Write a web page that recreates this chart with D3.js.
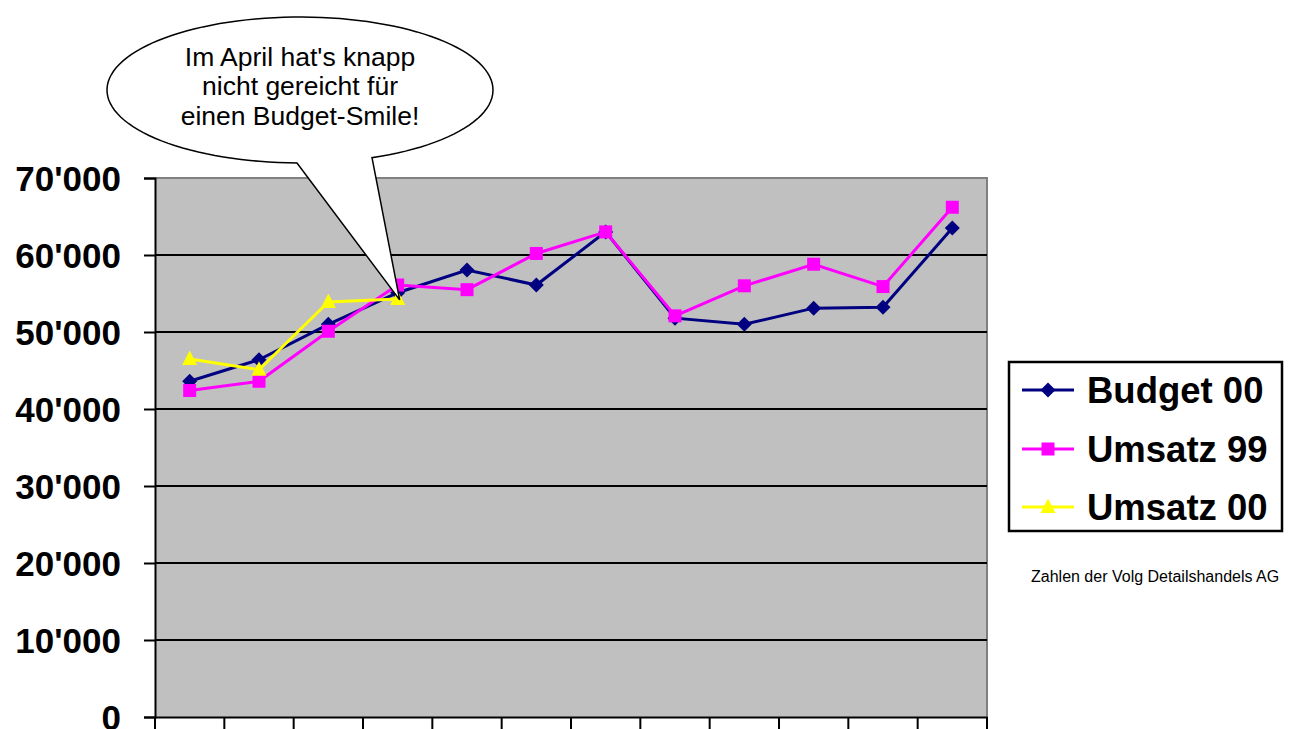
<!DOCTYPE html>
<html><head><meta charset="utf-8">
<script src="https://cdn.jsdelivr.net/npm/d3@7"></script>
<style>html,body{margin:0;padding:0;background:#fff;overflow:hidden}</style>
</head><body>
<svg id="chart" width="1294" height="729"></svg>
<script>
const months = ["Jan","Feb","Mär","Apr","Mai","Jun","Jul","Aug","Sep","Okt","Nov","Dez"];
const budget00 = [43600,46400,51000,55100,58050,56100,63000,51800,51000,53100,53200,63500];
const umsatz99 = [42400,43600,50100,56100,55500,60200,63000,52100,56000,58800,55900,66200];
const umsatz00 = [46500,45100,53900,54300];
const yTicks = [0,10000,20000,30000,40000,50000,60000,70000];
const seriesNames = ["Budget 00","Umsatz 99","Umsatz 00"];
const calloutLines = ["Im April hat's knapp","nicht gereicht für","einen Budget-Smile!"];
const footnote = "Zahlen der Volg Detailshandels AG";

const svg = d3.select("#chart");
const FONT = "'Liberation Sans', Arial, sans-serif";
const L = 155, R = 987, T = 178, B = 717;

const x = d3.scaleBand().domain(months).range([L, R]).paddingInner(0).paddingOuter(0);
const y = d3.scaleLinear().domain([0, 70000]).range([B, T]);
const cx = m => x(m) + x.bandwidth() / 2;

// marker shapes
const diamond = "M0,-7.5L7.5,0L0,7.5L-7.5,0Z";
const square = "M-6.5,-6.5H6.5V6.5H-6.5Z";
const triangle = "M0,-8.5L7.5,6L-7.5,6Z";

// plot background
svg.append("rect").attr("x", L).attr("y", T).attr("width", R - L).attr("height", B - T).attr("fill", "#C0C0C0");
svg.append("path").attr("d", `M${L},${T}H${R}V${B}`).attr("fill", "none").attr("stroke", "#808080").attr("stroke-width", 2);

// gridlines
svg.append("g").selectAll("line").data(yTicks.filter(d => d > 0 && d < 70000)).join("line")
  .attr("x1", L).attr("x2", R).attr("y1", d => y(d)).attr("y2", d => y(d))
  .attr("stroke", "#000").attr("stroke-width", 2);

// y axis
const yAxis = d3.axisLeft(y).tickValues(yTicks).tickSize(11).tickFormat(d => d3.format(",")(d).replace(/,/g, "'"));
const gy = svg.append("g").attr("transform", `translate(${L},0)`).call(yAxis);
gy.select(".domain").attr("stroke", "#000").attr("stroke-width", 2);
gy.selectAll(".tick line").attr("stroke", "#000").attr("stroke-width", 2);
gy.selectAll(".tick text")
  .attr("x", -34).attr("dy", null).attr("y", 12)
  .attr("font-family", FONT).attr("font-size", 35).attr("font-weight", "bold").attr("fill", "#000")
  .attr("text-anchor", "end");

// x axis (category labels fall outside the visible window)
const xAxis = d3.axisBottom(x).tickSize(0).tickFormat("");
const gx = svg.append("g").attr("transform", `translate(0,${B})`).call(xAxis);
gx.select(".domain").attr("stroke", "#000").attr("stroke-width", 2);
const bounds = months.map(m => x(m)).concat([R]);
svg.append("g").selectAll("line").data(bounds).join("line")
  .attr("x1", d => d).attr("x2", d => d).attr("y1", B).attr("y2", B + 14)
  .attr("stroke", "#000").attr("stroke-width", 2);

// series
const series = [
  {name: seriesNames[0], values: budget00, color: "#000080", shape: diamond},
  {name: seriesNames[1], values: umsatz99, color: "#FF00FF", shape: square},
  {name: seriesNames[2], values: umsatz00, color: "#FFFF00", shape: triangle}
];
const line = d3.line().x((d, i) => cx(months[i])).y(d => y(d));
series.forEach(s => {
  svg.append("path").datum(s.values).attr("d", line).attr("fill", "none")
    .attr("stroke", s.color).attr("stroke-width", 3).attr("stroke-linejoin", "miter");
});
series.forEach(s => {
  svg.append("g").selectAll("path").data(s.values).join("path")
    .attr("d", s.shape)
    .attr("transform", (d, i) => `translate(${cx(months[i])},${y(d)})`)
    .attr("fill", s.color);
});

// callout
const tip = [cx("Apr") + 2, y(umsatz00[3]) + 1];
const g = svg.append("g");
const ecx = 300, ecy = 90, erx = 193, ery = 73;
const bx1 = 297, bx2 = 372;
const by1 = ecy + ery * Math.sqrt(1 - ((bx1 - ecx) / erx) ** 2);
const by2 = ecy + ery * Math.sqrt(1 - ((bx2 - ecx) / erx) ** 2);
const a1 = Math.atan2((by1 - ecy) / ery, (bx1 - ecx) / erx);
const a2 = Math.atan2((by2 - ecy) / ery, (bx2 - ecx) / erx);
let dPath = `M${bx2},${by2} L${tip[0]},${tip[1]} L${bx1},${by1}`;
const steps = 120;
let start = a1, end = a2 + 2 * Math.PI;
if (end - start > 2 * Math.PI) end -= 2 * Math.PI;
if (end < start) end += 2 * Math.PI;
for (let k = 1; k <= steps; k++) {
  const t = start + (end - start) * k / steps;
  dPath += ` L${ecx + erx * Math.cos(t)},${ecy + ery * Math.sin(t)}`;
}
dPath += "Z";
g.append("path").attr("d", dPath).attr("fill", "#fff").attr("stroke", "#000").attr("stroke-width", 1.5).attr("stroke-linejoin", "miter");
g.selectAll("text").data(calloutLines).join("text")
  .attr("x", 300).attr("y", (d, i) => 66 + i * 29.3)
  .attr("text-anchor", "middle").attr("font-family", FONT).attr("font-size", 26.5).attr("fill", "#000")
  .text(d => d);

// legend
const lg = svg.append("g");
lg.append("rect").attr("x", 1009).attr("y", 362).attr("width", 273).attr("height", 169)
  .attr("fill", "#fff").attr("stroke", "#000").attr("stroke-width", 2.5);
const rowY = [390, 449, 507];
series.forEach((s, i) => {
  lg.append("line").attr("x1", 1022).attr("x2", 1074).attr("y1", rowY[i]).attr("y2", rowY[i])
    .attr("stroke", s.color).attr("stroke-width", 3);
  lg.append("path").attr("d", s.shape).attr("transform", `translate(1048,${rowY[i]})`).attr("fill", s.color);
  lg.append("text").attr("x", 1087).attr("y", rowY[i] + 12.5)
    .attr("font-family", FONT).attr("font-size", 36.5).attr("font-weight", "bold").attr("fill", "#000")
    .text(s.name);
});

svg.append("text").attr("x", 1031).attr("y", 582)
  .attr("font-family", FONT).attr("font-size", 16).attr("fill", "#000").text(footnote);
</script>
</body></html>
